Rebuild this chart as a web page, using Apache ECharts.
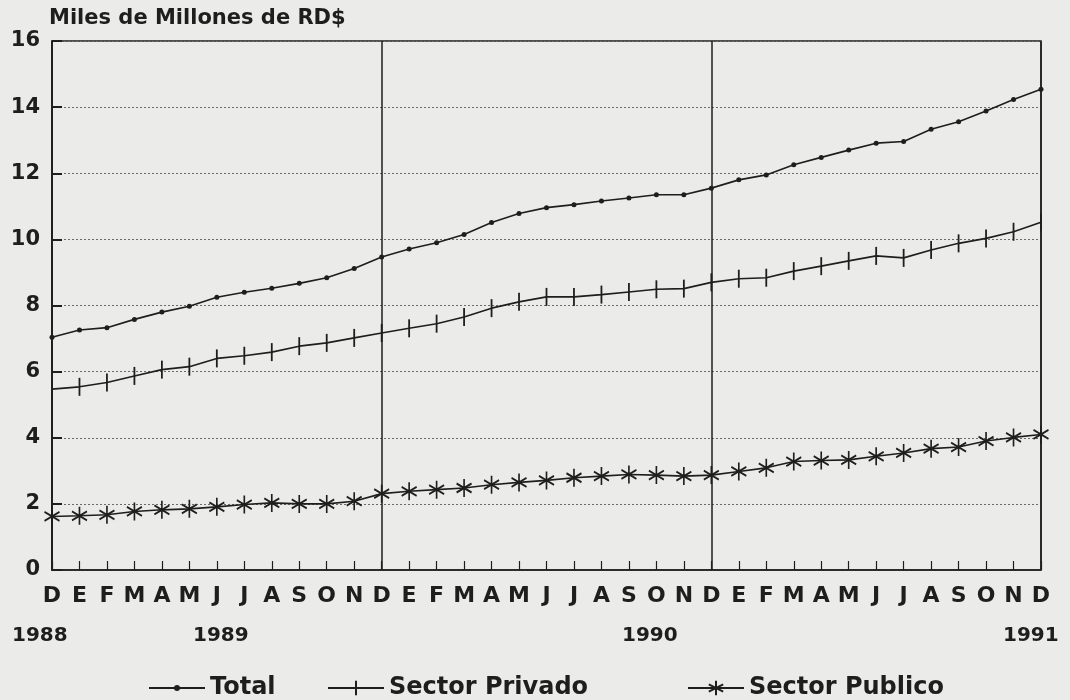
<!DOCTYPE html>
<html>
<head>
<meta charset="utf-8">
<script src="https://cdn.jsdelivr.net/npm/echarts@6/dist/echarts.min.js"></script>
<style>
  html, body { margin: 0; padding: 0; background: #ebebe9; }
  #chart { width: 1070px; height: 700px; }
</style>
</head>
<body>
<div id="chart"></div>
<script>
// meses: diciembre 1988 a diciembre 1991
const months = ['D','E','F','M','A','M','J','J','A','S','O','N',
                'D','E','F','M','A','M','J','J','A','S','O','N',
                'D','E','F','M','A','M','J','J','A','S','O','N','D'];
const years = ['1988', '1989', '1990', '1991'];
const yearLeft = [12, 193, 622, 1003];

const total = [7.04, 7.26, 7.33, 7.58, 7.80, 7.98, 8.25, 8.40, 8.52, 8.67, 8.84, 9.12, 9.47,
               9.71, 9.90, 10.15, 10.51, 10.78, 10.96, 11.05, 11.16, 11.25, 11.35, 11.35, 11.55,
               11.80, 11.95, 12.26, 12.48, 12.70, 12.91, 12.96, 13.33, 13.56, 13.88, 14.23, 14.54];
const privado = [5.47, 5.54, 5.67, 5.87, 6.06, 6.15, 6.40, 6.48, 6.59, 6.77, 6.87, 7.02, 7.17,
                 7.31, 7.45, 7.65, 7.92, 8.11, 8.26, 8.26, 8.33, 8.41, 8.49, 8.51, 8.70,
                 8.81, 8.84, 9.04, 9.19, 9.35, 9.50, 9.44, 9.68, 9.88, 10.03, 10.23, 10.52];
const publico = [1.62, 1.64, 1.67, 1.77, 1.82, 1.85, 1.91, 1.98, 2.03, 2.00, 2.00, 2.08, 2.31,
                 2.38, 2.43, 2.48, 2.58, 2.65, 2.71, 2.79, 2.84, 2.89, 2.87, 2.84, 2.87,
                 2.98, 3.09, 3.28, 3.31, 3.33, 3.44, 3.54, 3.67, 3.72, 3.90, 4.01, 4.10];

const seriesNames = ['Total', 'Sector Privado', 'Sector Publico'];
const legendLeft = [143, 322, 682];

const ink = '#1e1e1e';
const font = 'DejaVu Sans';
// simbolos: punto pequeño (con caja cuadrada invisible), cruz con brazo vertical, asterisco
const dot = 'path://M0,-6M0,6M-6,0M6,0M-2.5,0A2.5,2.5,0,1,1,2.5,0A2.5,2.5,0,1,1,-2.5,0Z';
const tick = 'path://M-9,0M9,0M0,-9L0,9';
const asterisk = 'path://M0,-10L0,10M-8.66,-5L8.66,5M-8.66,5L8.66,-5';

const chart = echarts.init(document.getElementById('chart'));

const option = {
  backgroundColor: '#ebebe9',
  animation: false,
  grid: {
    left: 52, right: 29, top: 41, bottom: 130,
    show: true, borderColor: ink, borderWidth: 1.5
  },
  xAxis: {
    type: 'category',
    data: months,
    boundaryGap: false,
    axisLine: { lineStyle: { color: ink, width: 1.5 } },
    axisTick: { inside: true, length: 9, interval: 0, lineStyle: { color: ink, width: 1.2 } },
    axisLabel: {
      interval: 0, margin: 15, color: ink,
      fontFamily: font, fontWeight: 'bold', fontSize: 22
    },
    splitLine: {
      show: true,
      interval: function (i) { return i % 12 === 0; },
      lineStyle: { color: ink, width: 1.5, type: 'solid' }
    }
  },
  yAxis: {
    type: 'value',
    min: 0, max: 16, interval: 2,
    name: 'Miles de Millones de RD$',
    nameLocation: 'end',
    nameGap: 12,
    nameTextStyle: {
      align: 'left', color: ink, fontFamily: font,
      fontWeight: 'bold', fontSize: 21, padding: [0, 0, 0, -3]
    },
    axisLine: { show: true, lineStyle: { color: ink, width: 1.5 } },
    axisTick: { show: true, inside: true, length: 10, lineStyle: { color: ink, width: 2 } },
    axisLabel: {
      margin: 12, color: ink, fontFamily: font, fontWeight: 'bold', fontSize: 21
    },
    splitLine: { lineStyle: { color: '#6a6a6a', width: 1, type: [2, 2] } }
  },
  legend: seriesNames.map(function (name, i) {
    return {
      left: legendLeft[i], top: 671,
      itemWidth: 56, itemHeight: 18,
      textStyle: { color: ink, fontFamily: font, fontWeight: 'bold', fontSize: 24 },
      data: [name]
    };
  }),
  graphic: years.map(function (y, i) {
    return {
      type: 'text', left: yearLeft[i], top: 626,
      style: { text: y, fill: ink, font: 'bold 20px "DejaVu Sans"' }
    };
  }),
  series: [
    {
      name: seriesNames[0], type: 'line', data: total,
      symbol: dot, symbolSize: 12, showAllSymbol: true,
      lineStyle: { color: ink, width: 1.6 },
      itemStyle: { color: ink, borderWidth: 0 }
    },
    {
      name: seriesNames[1], type: 'line', data: privado,
      symbol: tick, symbolSize: 18, showAllSymbol: true,
      lineStyle: { color: ink, width: 1.6 },
      itemStyle: { color: ink, borderColor: ink, borderWidth: 1.8 }
    },
    {
      name: seriesNames[2], type: 'line', data: publico,
      symbol: asterisk, symbolSize: [15, 18], showAllSymbol: true,
      lineStyle: { color: ink, width: 1.6 },
      itemStyle: { color: ink, borderColor: ink, borderWidth: 1.8 }
    }
  ]
};

chart.setOption(option);
</script>
</body>
</html>
